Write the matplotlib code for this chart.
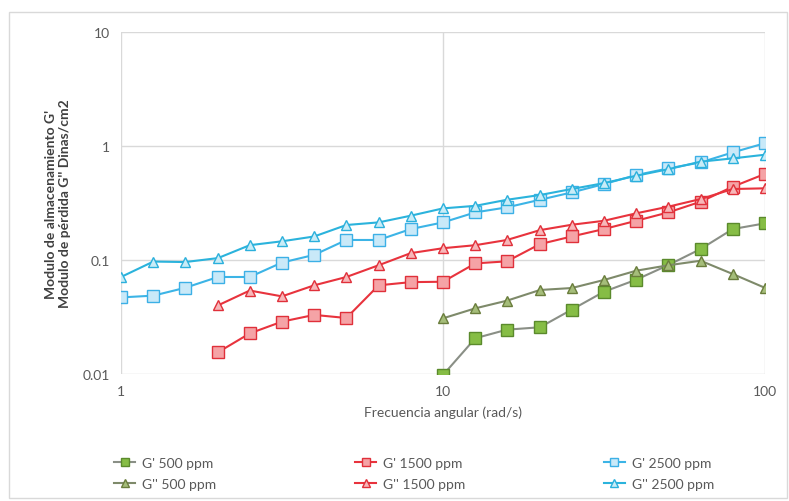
import matplotlib
matplotlib.use("Agg")
import matplotlib.pyplot as plt
from matplotlib.patches import Rectangle

plt.rcParams['font.family'] = ['Lato', 'DejaVu Sans']

# Angular frequency (rad/s), 10 points per decade
freq = [1, 1.26, 1.58, 2, 2.51, 3.16, 3.98, 5.01, 6.31, 7.94,
        10, 12.6, 15.8, 20, 25.1, 31.6, 39.8, 50.1, 63.1, 79.4, 100]
freq_500 = freq[10:]
freq_1500 = freq[3:]

g1_500 = [0.0098, 0.0206, 0.0245, 0.0257, 0.0367, 0.0527, 0.0672, 0.0904, 0.125, 0.187, 0.21]
g2_500 = [0.0308, 0.0377, 0.044, 0.0546, 0.0568, 0.0668, 0.0806, 0.090, 0.0986, 0.0754, 0.057]

g1_1500 = [0.0155, 0.0227, 0.0288, 0.033, 0.031, 0.060, 0.064, 0.0645,
           0.0935, 0.0974, 0.138, 0.161, 0.187, 0.221, 0.262, 0.325, 0.44, 0.57]
g2_1500 = [0.040, 0.054, 0.048, 0.060, 0.071, 0.090, 0.115, 0.127,
           0.135, 0.150, 0.183, 0.204, 0.221, 0.257, 0.294, 0.343, 0.42, 0.426]

g1_2500 = [0.047, 0.0487, 0.057, 0.071, 0.071, 0.095, 0.111, 0.150, 0.150, 0.187,
           0.214, 0.262, 0.29, 0.338, 0.392, 0.464, 0.557, 0.637, 0.719, 0.88, 1.06]
g2_2500 = [0.071, 0.097, 0.096, 0.104, 0.135, 0.146, 0.161, 0.203, 0.214, 0.245,
           0.284, 0.299, 0.338, 0.372, 0.42, 0.473, 0.549, 0.627, 0.73, 0.78, 0.84]

y_ticks = [0.01, 0.1, 1, 10]
y_tick_labels = ['0.01', '0.1', '1', '10']
x_ticks = [1, 10, 100]
x_tick_labels = ['1', '10', '100']

fig = plt.figure(figsize=(7.89, 5.02), dpi=100)
ax = fig.add_axes([0.1534, 0.253, 0.8162, 0.681])

# Chart-area border
fig.patches.append(Rectangle((9 / 789, 3 / 502), 778 / 789, 486 / 502,
                             transform=fig.transFigure, fill=False,
                             edgecolor='#d9d9d9', linewidth=1.0))

series = [
    (freq_500, g1_500, "G' 500 ppm", 's', '#8a8f86', '#86bd45', '#5b8a2c'),
    (freq_1500, g1_1500, "G' 1500 ppm", 's', '#e8333d', '#f5a3a6', '#e0303a'),
    (freq, g1_2500, "G' 2500 ppm", 's', '#3cb4e6', '#c9e9f8', '#3cb0e6'),
    (freq_500, g2_500, "G'' 500 ppm", '^', '#7e8a6a', '#a5bd7a', '#6a7d3c'),
    (freq_1500, g2_1500, "G'' 1500 ppm", '^', '#e8333d', '#f7b7b9', '#e0303a'),
    (freq, g2_2500, "G'' 2500 ppm", '^', '#2bb3dc', '#c9ecf7', '#2bb0dc'),
]

handles = {}
for x, y, label, mk, lc, fc, ec in series:
    ms = 9 if mk == 's' else 7.5
    h, = ax.plot(x, y, color=lc, linewidth=1.5, marker=mk, markersize=ms,
                 markerfacecolor=fc, markeredgecolor=ec, markeredgewidth=1.0,
                 label=label)
    handles[label] = h

ax.set_xscale('log')
ax.set_yscale('log')
ax.set_xlim(1, 100)
ax.set_ylim(0.01, 10)
ax.set_xticks(x_ticks)
ax.set_xticklabels(x_tick_labels)
ax.set_yticks(y_ticks)
ax.set_yticklabels(y_tick_labels)
ax.minorticks_off()
ax.tick_params(axis='both', length=0, labelsize=10, colors='#595959', pad=8)
ax.grid(True, which='major', color='#d9d9d9', linewidth=1.0)
ax.set_axisbelow(True)
for s in ax.spines.values():
    s.set_visible(False)

ax.set_xlabel('Frecuencia angular (rad/s)', fontsize=10, color='#595959', labelpad=6)
ax.set_ylabel("Modulo de almacenamiento G'\nModulo de pérdida G'' Dinas/cm2",
              fontsize=10, color='#404040', fontweight='bold', labelpad=8)

order = ["G' 500 ppm", "G'' 500 ppm", "G' 1500 ppm", "G'' 1500 ppm",
         "G' 2500 ppm", "G'' 2500 ppm"]
leg = fig.legend([handles[k] for k in order], order, ncol=3,
                 loc='center', bbox_to_anchor=(0.525, 0.055),
                 frameon=False, fontsize=10, columnspacing=10.0,
                 handlelength=1.5, handletextpad=0.5, labelspacing=0.7,
                 markerscale=0.7)
for t in leg.get_texts():
    t.set_color('#595959')

fig.savefig('out.png', dpi=100)
